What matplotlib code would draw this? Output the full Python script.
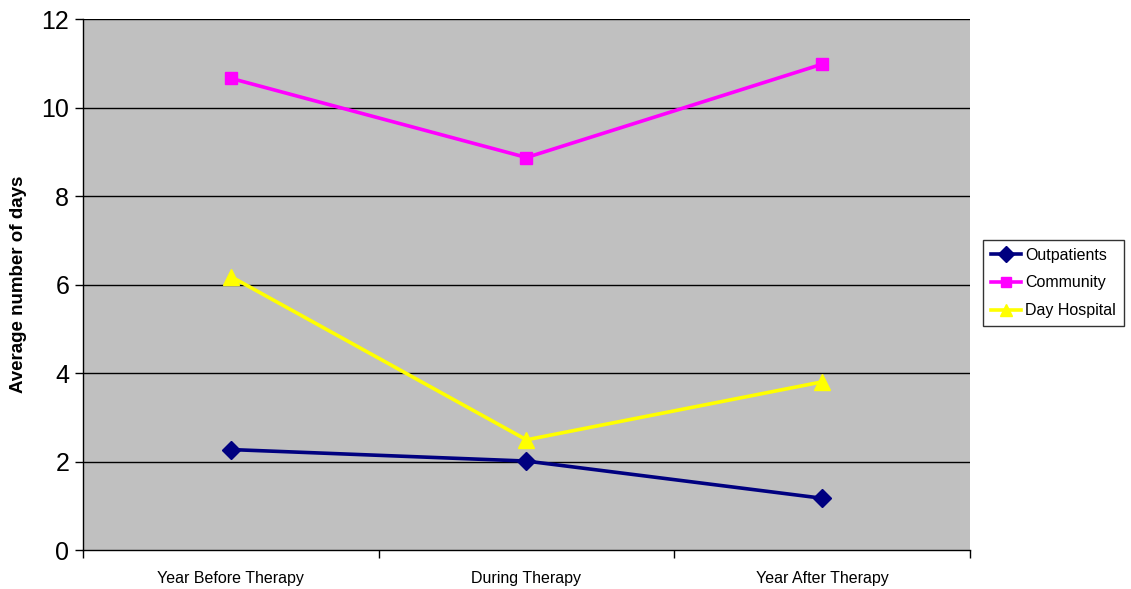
import matplotlib
matplotlib.use("Agg")
import matplotlib.pyplot as plt
import numpy as np

plt.rcParams['font.family'] = ['Liberation Sans', 'DejaVu Sans']

categories = ["Year Before Therapy", "During Therapy", "Year After Therapy"]
outpatients = [2.27, 2.01, 1.17]
community = [10.66, 8.87, 10.98]
day_hospital = [6.18, 2.49, 3.80]

fig = plt.figure(figsize=(11.31, 5.89), dpi=100)
ax = fig.add_axes([0.0734, 0.0662, 0.7842, 0.9015])
ax.set_facecolor('#C0C0C0')

x = np.arange(len(categories)) + 0.5
ax.plot(x, outpatients, color='#000080', lw=2.6, marker='D', ms=9, label='Outpatients')
ax.plot(x, community, color='#FF00FF', lw=2.6, marker='s', ms=9, label='Community')
ax.plot(x, day_hospital, color='#FFFF00', lw=2.6, marker='^', ms=11, label='Day Hospital')

ax.set_xlim(0, 3)
ax.set_ylim(0, 12)
ax.set_yticks(range(0, 13, 2))
ax.set_xticks([0, 1, 2, 3])
ax.set_xticklabels([])
ax.set_xticks(x, minor=True)
ax.set_xticklabels(categories, minor=True, fontsize=11.5)
ax.tick_params(axis='x', which='minor', length=0, pad=15)
ax.tick_params(axis='x', which='major', length=6, width=1, color='black', direction='out')
ax.tick_params(axis='y', length=6, width=1, labelsize=18, pad=4, direction='out')

for yv in range(2, 13, 2):
    ax.axhline(yv, color='black', lw=1, zorder=1)

for s in ['top', 'right']:
    ax.spines[s].set_visible(False)
for s in ['left', 'bottom']:
    ax.spines[s].set_color('black')
    ax.spines[s].set_linewidth(1)

ax.set_ylabel('Average number of days', fontsize=13.5, fontweight='bold', labelpad=10)

leg = ax.legend(loc='center left', bbox_to_anchor=(1.0147, 0.503), frameon=True,
                fancybox=False, edgecolor='black', fontsize=11.5, handlelength=1.9,
                borderpad=0.5, labelspacing=0.8, handletextpad=0.25, borderaxespad=0,
                markerscale=0.85)
leg.get_frame().set_linewidth(1)

fig.savefig('out.png', dpi=100)
